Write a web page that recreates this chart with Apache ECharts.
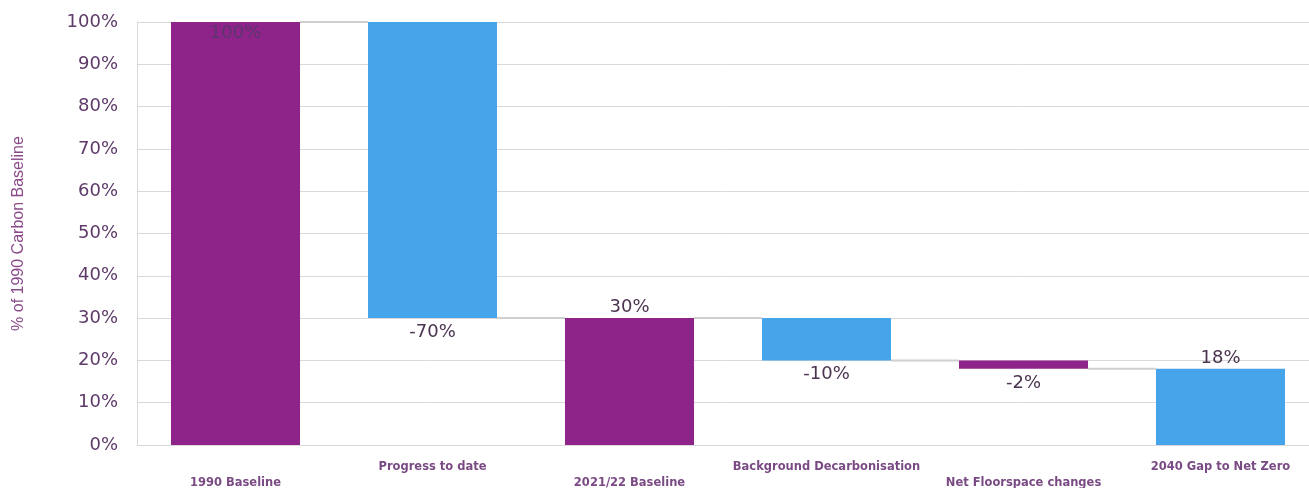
<!DOCTYPE html>
<html>
<head>
<meta charset="utf-8">
<script src="https://cdn.jsdelivr.net/npm/echarts@6/dist/echarts.min.js"></script>
<style>html,body{margin:0;padding:0;background:#fff}#c{width:1309px;height:488px}</style>
</head>
<body>
<div id="c"></div>
<script>
const categories = ['1990 Baseline','Progress to date','2021/22 Baseline','Background Decarbonisation','Net Floorspace changes','2040 Gap to Net Zero'];
const changes = [100, -70, 30, -10, -2, 18];
const isTotal = [true, false, true, false, false, true];
const labelTexts = ['100%','-70%','30%','-10%','-2%','18%'];
const yTicks = [0,10,20,30,40,50,60,70,80,90,100];

const PURPLE = '#8E2489';
const BLUE = '#46A4EA';
const colors = categories.map((c,i)=> i%2===0 ? PURPLE : BLUE);
const BAR_FRAC = 0.655;

// derive waterfall bases and heights
let level = 0;
const bases = [], heights = [], endLevels = [];
changes.forEach((v,i)=>{
  if (isTotal[i]) { bases.push(0); heights.push(v); level = v; }
  else { const nl = level + v; bases.push(Math.min(level,nl)); heights.push(Math.abs(v)); level = nl; }
  endLevels.push(level);
});

const labelPos = changes.map((v,i)=> i===0 ? 'insideTop' : (v<0 ? 'bottom' : 'top'));

const chart = echarts.init(document.getElementById('c'));
chart.setOption({
  animation:false,
  grid:{left:137,right:-10,top:22,bottom:43,containLabel:false,outerBoundsMode:'none'},
  xAxis:{
    type:'category', data:categories,
    axisLine:{show:true,lineStyle:{color:'#d9d9d9',width:1}},
    axisTick:{show:false},
    axisLabel:{
      interval:0, margin:14, color:'#7a4a84', fontSize:11.5, fontWeight:'bold',
      fontFamily:'DejaVu Sans', lineHeight:16,
      formatter:(v)=>{ const i=categories.indexOf(v); return i%2===0 ? '\n'+v : v; }
    }
  },
  yAxis:{
    type:'value', min:0, max:100, interval:10,
    name:'% of 1990 Carbon Baseline', nameLocation:'middle', nameGap:110,
    nameTextStyle:{color:'#8a4a8a',fontSize:16,fontFamily:'Liberation Sans'},
    axisLine:{show:true,lineStyle:{color:'#d9d9d9'}},
    axisTick:{show:false},
    splitLine:{lineStyle:{color:'#d9d9d9',width:1}},
    axisLabel:{color:'#5e3a6a',fontSize:18,fontFamily:'DejaVu Sans',margin:19,
      formatter:(v)=> yTicks.includes(v) ? v+'%' : ''}
  },
  series:[
    {
      type:'bar', stack:'w', barWidth:(BAR_FRAC*100)+'%', silent:true,
      itemStyle:{color:'transparent'},
      data:bases
    },
    {
      type:'bar', stack:'w', barWidth:(BAR_FRAC*100)+'%',
      data:heights.map((h,i)=>({
        value:h,
        itemStyle:{color:colors[i]},
        label:{show:true, position:labelPos[i], formatter:labelTexts[i],
          color: i===0 ? '#5f3570' : '#4a3450', fontSize:18, fontFamily:'DejaVu Sans',
          distance: i===0 ? 2 : (changes[i] < 0 ? 5 : 2)}
      }))
    },
    {
      type:'custom', z:1,
      renderItem:(params, api)=>{
        const i = api.value(0);
        if (i >= categories.length-1) return null;
        const y = api.value(1);
        const w = api.size([1,0])[0]*BAR_FRAC;
        const p1 = api.coord([i, y]);
        const p2 = api.coord([i+1, y]);
        return {type:'line', shape:{x1:p1[0]+w/2, y1:p1[1], x2:p2[0]-w/2, y2:p2[1]},
          style:{stroke:'#cfcfcf', lineWidth:2}};
      },
      data:endLevels.map((l,i)=>[i,l])
    }
  ]
});
</script>
</body>
</html>
